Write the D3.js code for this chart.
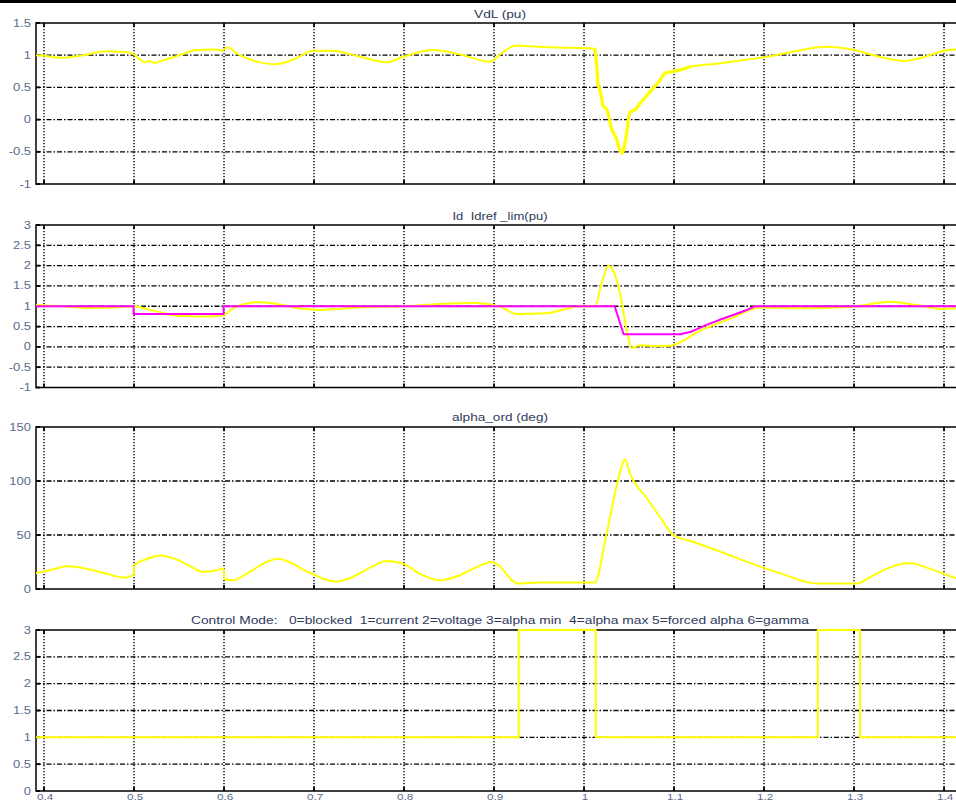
<!DOCTYPE html>
<html><head><meta charset="utf-8">
<script src="https://cdn.jsdelivr.net/npm/d3@7/dist/d3.min.js"></script>
<style>
body{margin:0;background:#fff}
svg{display:block}
text{font-family:"Liberation Sans",Arial,Helvetica,sans-serif}
</style>
</head><body>
<svg id="chart" width="956" height="802"></svg>
<script>
// ---------- data ----------
const xDomain = [0.3911, 1.4133];
const xTicks = [0.4,0.5,0.6,0.7,0.8,0.9,1.0,1.1,1.2,1.3,1.4];
const xTickLabels = ["0.4","0.5","0.6","0.7","0.8","0.9","1","1.1","1.2","1.3","1.4"];

const titles = [
  "VdL (pu)",
  "Id  Idref _lim(pu)",
  "alpha_ord (deg)",
  "Control Mode:   0=blocked  1=current 2=voltage 3=alpha min  4=alpha max 5=forced alpha 6=gamma"
];

const vdlTicks = [-1,-0.5,0,0.5,1,1.5];
const vdlTickLabels = ["-1","-0.5","0","0.5","1","1.5"];
const vdl = [
 [0.391,1.00],[0.40,0.99],[0.42,0.96],[0.44,0.99],[0.47,1.06],[0.49,1.05],[0.499,1.02],
 [0.505,0.95],[0.512,0.89],[0.517,0.91],[0.522,0.88],[0.528,0.90],[0.535,0.93],[0.55,1.00],
 [0.57,1.08],[0.59,1.09],[0.598,1.07],[0.603,1.12],[0.607,1.11],[0.612,1.05],[0.63,0.93],
 [0.657,0.86],[0.68,0.95],[0.699,1.07],[0.72,1.07],[0.75,0.98],[0.781,0.89],[0.80,0.98],
 [0.832,1.08],[0.86,1.02],[0.895,0.90],[0.90,0.93],[0.91,1.05],[0.925,1.15],[0.94,1.14],
 [0.97,1.12],[1.00,1.11],[1.0122,1.10],[1.0144,0.77],[1.0155,0.55],[1.0178,0.46],
 [1.0211,0.22],[1.0255,0.15],[1.0311,-0.16],[1.0344,-0.24],[1.040,-0.47],[1.0422,-0.52],
 [1.0467,-0.27],[1.0511,0.12],[1.0567,0.15],[1.0622,0.25],[1.0733,0.43],[1.0844,0.61],
 [1.090,0.72],[1.0955,0.74],[1.1066,0.77],[1.1178,0.82],[1.15,0.87],[1.18,0.93],[1.20,0.97],
 [1.23,1.05],[1.27,1.13],[1.30,1.08],[1.33,0.97],[1.355,0.91],[1.38,0.98],[1.40,1.07],[1.4133,1.09]
];

const idTicks = [-1,-0.5,0,0.5,1,1.5,2,2.5,3];
const idTickLabels = ["-1","-0.5","0","0.5","1","1.5","2","2.5","3"];
const id = [
 [0.391,1.03],[0.42,1.00],[0.45,0.96],[0.48,0.97],[0.499,1.00],[0.52,0.90],[0.55,0.76],
 [0.58,0.75],[0.599,0.78],[0.61,0.95],[0.625,1.07],[0.64,1.10],[0.66,1.05],[0.69,0.93],
 [0.707,0.91],[0.75,0.97],[0.80,1.00],[0.85,1.07],[0.88,1.08],[0.907,0.99],[0.925,0.81],
 [0.958,0.83],[0.997,1.00],[1.012,1.00],[1.020,1.60],[1.027,2.00],[1.032,1.90],[1.040,1.32],
 [1.048,0.34],[1.053,-0.03],[1.062,0.04],[1.080,0.02],[1.096,0.03],[1.129,0.40],[1.165,0.72],
 [1.195,0.97],[1.24,0.95],[1.295,0.98],[1.34,1.11],[1.37,1.03],[1.399,0.93],[1.4133,0.95]
];
const idrefLim = [
 [0.3911,1.0],[0.4995,1.0],[0.4995,0.81],[0.5995,0.81],[0.5995,1.0],[1.034,1.0],[1.044,0.31],
 [1.107,0.31],[1.12,0.38],[1.136,0.54],[1.15,0.66],[1.165,0.78],[1.18,0.90],[1.19,1.0],[1.4133,1.0]
];

const alphaTicks = [0,50,100,150];
const alphaTickLabels = ["0","50","100","150"];
const alphaOrd = [
 [0.391,14.5],[0.41,18],[0.425,21],[0.44,20],[0.47,14],[0.488,10.5],[0.4995,13],[0.5005,22],
 [0.515,28],[0.53,31],[0.545,28],[0.565,20],[0.575,16],[0.59,17],[0.5995,19],[0.6005,9],
 [0.61,8],[0.625,14],[0.645,24],[0.66,28],[0.675,24],[0.69,17],[0.70,13.5],[0.71,9.5],
 [0.725,7],[0.74,10],[0.765,21],[0.78,26],[0.80,23],[0.82,13],[0.84,8],[0.86,12],[0.88,20],
 [0.897,25],[0.905,22],[0.92,8],[0.926,5],[0.95,6],[1.0,6],[1.012,6],[1.025,51],[1.040,108],
 [1.0455,120],[1.051,107],[1.07,84],[1.085,66],[1.099,50],[1.12,44],[1.15,35],[1.188,23],
 [1.22,14],[1.259,5],[1.303,5],[1.32,12],[1.34,20],[1.362,24],[1.38,20],[1.40,14],[1.4133,10]
];

const modeTicks = [0,0.5,1,1.5,2,2.5,3];
const modeTickLabels = ["0","0.5","1","1.5","2","2.5","3"];
const controlMode = [
 [0.3911,1],[0.9275,1],[0.9275,3],[1.013,3],[1.013,1],[1.2597,1],[1.2597,3],[1.3066,3],[1.3066,1],[1.4133,1]
];

// ---------- layout ----------
const W = 956, H = 802;
const svg = d3.select("#chart");
svg.append("rect").attr("x",0).attr("y",0).attr("width",W).attr("height",3).attr("fill","#000");

const x = d3.scaleLinear().domain(xDomain).range([36, 956]);

const panels = [
  {top:23,  bottom:184,   dom:[-1,1.5], ticks:vdlTicks,   labels:vdlTickLabels,   title:titles[0], tY:17.5,  tLen:52,
   series:[{d:vdl, c:"#ffff00", w:2, curve:d3.curveMonotoneX},
           {d:vdl.filter(p => p[0] >= 1.012 && p[0] <= 1.12), c:"#ffff00", w:3.2, curve:d3.curveMonotoneX}]},
  {top:225, bottom:387.5, dom:[-1,3],   ticks:idTicks,    labels:idTickLabels,    title:titles[1], tY:219.5, tLen:95,
   series:[{d:id, c:"#ffff00", w:2, curve:d3.curveMonotoneX},{d:idrefLim, c:"#ff00ff", w:2, curve:d3.curveLinear}]},
  {top:427, bottom:589,   dom:[0,150],  ticks:alphaTicks, labels:alphaTickLabels, title:titles[2], tY:420.5, tLen:96,
   series:[{d:alphaOrd, c:"#ffff00", w:2, curve:d3.curveMonotoneX}]},
  {top:630, bottom:791,   dom:[0,3],    ticks:modeTicks,  labels:modeTickLabels,  title:titles[3], tY:623.5, tLen:618,
   series:[{d:controlMode, c:"#ffff00", w:2, curve:d3.curveLinear}]}
];

const labelColor = "#5a6a8e";
const titleColor = "#2e3a5c";

panels.forEach((p, i) => {
  const y = d3.scaleLinear().domain(p.dom).range([p.bottom, p.top]);
  const g = svg.append("g");
  const x0 = x.range()[0], x1 = 958;

  // horizontal grid (dash-dot)
  g.selectAll(".hg").data(p.ticks.filter(t => t !== p.dom[0] && t !== p.dom[1])).enter()
    .append("line").attr("x1", x0).attr("x2", x1)
    .attr("y1", d => y(d)).attr("y2", d => y(d))
    .attr("stroke", "#000").attr("stroke-width", 1.3).attr("stroke-dasharray", "5,2,1.5,2");
  // vertical grid (dotted)
  g.selectAll(".vg").data(xTicks).enter()
    .append("line").attr("x1", d => x(d)).attr("x2", d => x(d))
    .attr("y1", p.top).attr("y2", p.bottom)
    .attr("stroke", "#000").attr("stroke-width", 1.4).attr("stroke-dasharray", "1.3,1.7");

  const clipId = "clip" + i;
  svg.append("clipPath").attr("id", clipId).append("rect")
    .attr("x", x0).attr("y", p.top - 2).attr("width", x1 - x0).attr("height", p.bottom - p.top + 4);

  // frame
  g.append("rect").attr("x", x0).attr("y", p.top).attr("width", x1 - x0).attr("height", p.bottom - p.top)
    .attr("fill", "none").attr("stroke", "#000").attr("stroke-width", 1.5);

  // inward ticks
  g.selectAll(".tt").data(xTicks).enter().append("line")
    .attr("x1", d => x(d)).attr("x2", d => x(d)).attr("y1", p.top).attr("y2", p.top + 4)
    .attr("stroke", "#000").attr("stroke-width", 1.8);
  g.selectAll(".tb").data(xTicks).enter().append("line")
    .attr("x1", d => x(d)).attr("x2", d => x(d)).attr("y1", p.bottom).attr("y2", p.bottom - 4)
    .attr("stroke", "#000").attr("stroke-width", 1.8);
  g.selectAll(".tl").data(p.ticks).enter().append("line")
    .attr("x1", x0).attr("x2", x0 + 4).attr("y1", d => y(d)).attr("y2", d => y(d))
    .attr("stroke", "#000").attr("stroke-width", 1.8);

  p.series.forEach(s => {
    const line = d3.line().x(d => x(d[0])).y(d => y(d[1])).curve(s.curve);
    g.append("path").attr("d", line(s.d)).attr("fill", "none")
      .attr("stroke", s.c).attr("stroke-width", s.w).attr("stroke-linejoin", "round")
      .attr("clip-path", `url(#${clipId})`);
  });

  // y tick labels
  g.selectAll(".yl").data(p.ticks).enter().append("text")
    .attr("transform", d => `translate(31,${y(d) + 3.5}) scale(1.3,1)`)
    .attr("text-anchor", "end").attr("font-size", 10).attr("fill", labelColor)
    .text((d, k) => p.labels[k]);

  // title
  g.append("text").attr("x", 500 - p.tLen / 2).attr("y", p.tY)
    .attr("font-size", 10).attr("fill", titleColor)
    .attr("textLength", p.tLen).attr("lengthAdjust", "spacingAndGlyphs")
    .attr("xml:space", "preserve").style("white-space", "pre")
    .text(p.title);

  // x tick labels only on the last panel
  if (i === panels.length - 1) {
    g.selectAll(".xl").data(xTicks).enter().append("text")
      .attr("transform", d => `translate(${x(d) + 1},${p.bottom + 8.5}) scale(1.3,1)`)
      .attr("text-anchor", "middle").attr("font-size", 9).attr("fill", labelColor)
      .text((d, k) => xTickLabels[k]);
  }
});
</script>
</body></html>
